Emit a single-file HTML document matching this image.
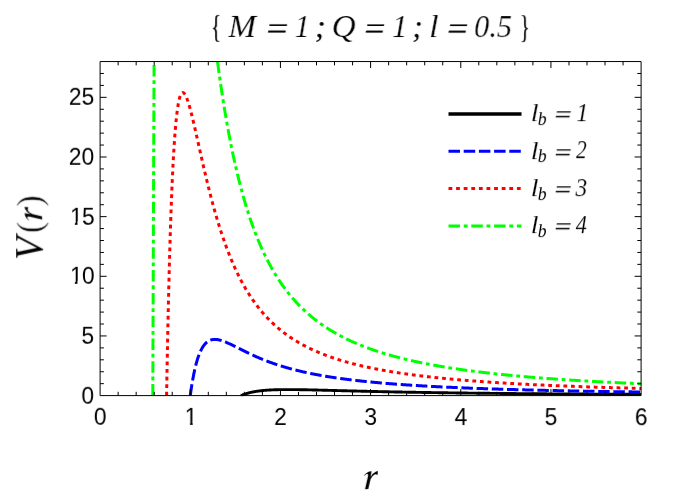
<!DOCTYPE html>
<html><head><meta charset="utf-8"><title>V(r)</title>
<style>
html,body{margin:0;padding:0;background:#fff;}
body{width:686px;height:504px;overflow:hidden;font-family:"Liberation Sans",sans-serif;}
svg{display:block;}
text{fill:#000;}
</style></head><body>
<svg width="686" height="504" viewBox="0 0 686 504">
<rect width="686" height="504" fill="#fff"/>
<defs><clipPath id="clip"><rect x="99.6" y="61.05" width="542.0" height="335.25"/></clipPath></defs>

<g clip-path="url(#clip)" fill="none" stroke-linejoin="round">
<path d="M240.90,395.60 L241.35,395.41 L241.79,395.23 L242.24,395.05 L242.68,394.87 L243.13,394.70 L243.57,394.54 L244.02,394.38 L244.46,394.22 L244.91,394.07 L245.35,393.92 L245.80,393.78 L246.24,393.64 L246.69,393.50 L247.13,393.37 L247.58,393.25 L248.02,393.12 L248.47,393.00 L248.91,392.88 L249.36,392.77 L249.80,392.66 L250.25,392.55 L250.69,392.45 L251.14,392.35 L251.58,392.25 L252.03,392.15 L252.47,392.06 L252.92,391.97 L253.36,391.88 L253.81,391.80 L254.25,391.72 L254.70,391.64 L255.15,391.56 L255.59,391.48 L256.04,391.41 L256.48,391.34 L256.93,391.27 L257.37,391.20 L257.82,391.14 L258.26,391.08 L258.71,391.02 L259.15,390.96 L259.60,390.90 L260.04,390.84 L260.49,390.79 L260.93,390.74 L261.38,390.69 L261.82,390.64 L262.27,390.59 L262.71,390.55 L263.16,390.50 L263.60,390.46 L264.05,390.42 L264.49,390.38 L264.94,390.34 L265.38,390.31 L265.83,390.27 L266.27,390.24 L266.72,390.20 L267.16,390.17 L267.61,390.14 L268.05,390.11 L268.50,390.08 L268.95,390.05 L269.39,390.03 L269.84,390.00 L270.28,389.98 L270.73,389.95 L271.17,389.93 L271.62,389.91 L272.06,389.89 L272.51,389.87 L272.95,389.85 L273.40,389.83 L273.84,389.81 L274.29,389.80 L274.73,389.78 L275.18,389.76 L275.62,389.75 L276.07,389.74 L276.51,389.72 L276.96,389.71 L277.40,389.70 L277.85,389.69 L278.29,389.68 L278.74,389.67 L279.18,389.66 L279.63,389.65 L280.07,389.64 L280.52,389.63 L280.96,389.63 L281.41,389.62 L281.85,389.61 L282.30,389.61 L282.75,389.60 L283.19,389.60 L283.64,389.60 L284.08,389.59 L284.53,389.59 L284.97,389.59 L285.42,389.58 L285.86,389.58 L286.31,389.58 L286.75,389.58 L287.20,389.58 L287.64,389.58 L288.09,389.58 L288.53,389.58 L288.98,389.58 L289.42,389.58 L289.87,389.58 L290.31,389.58 L290.76,389.59 L291.20,389.59 L291.65,389.59 L292.09,389.59 L292.54,389.60 L292.98,389.60 L293.43,389.60 L293.87,389.61 L294.32,389.61 L294.76,389.62 L295.21,389.62 L295.65,389.63 L296.10,389.63 L296.55,389.64 L296.99,389.64 L297.44,389.65 L297.88,389.65 L298.33,389.66 L298.77,389.67 L299.22,389.67 L299.66,389.68 L300.11,389.69 L300.55,389.69 L301.00,389.70 L301.44,389.71 L301.89,389.72 L302.33,389.73 L302.78,389.73 L303.22,389.74 L303.67,389.75 L304.11,389.76 L304.56,389.77 L305.00,389.77 L305.45,389.78 L305.89,389.79 L306.34,389.80 L306.78,389.81 L307.23,389.82 L307.67,389.83 L308.12,389.84 L308.56,389.85 L309.01,389.86 L309.45,389.87 L309.90,389.88 L310.35,389.89 L310.79,389.90 L311.24,389.91 L311.68,389.92 L312.13,389.93 L312.57,389.94 L313.02,389.95 L313.46,389.96 L313.91,389.97 L314.35,389.98 L314.80,389.99 L315.24,390.00 L315.69,390.01 L316.13,390.02 L316.58,390.03 L317.02,390.04 L317.47,390.06 L317.91,390.07 L318.36,390.08 L318.80,390.09 L319.25,390.10 L319.69,390.11 L320.14,390.12 L320.58,390.13 L321.03,390.15 L321.47,390.16 L321.92,390.17 L322.36,390.18 L322.81,390.19 L323.25,390.20 L323.70,390.21 L324.15,390.23 L324.59,390.24 L325.04,390.25 L325.48,390.26 L325.93,390.27 L326.37,390.28 L326.82,390.30 L327.26,390.31 L327.71,390.32 L328.15,390.33 L328.60,390.34 L329.04,390.35 L329.49,390.37 L329.93,390.38 L330.38,390.39 L330.82,390.40 L331.27,390.41 L331.71,390.42 L332.16,390.44 L332.60,390.45 L333.05,390.46 L333.49,390.47 L333.94,390.48 L334.38,390.50 L334.83,390.51 L335.27,390.52 L335.72,390.53 L336.16,390.54 L336.61,390.55 L337.05,390.57 L337.50,390.58 L337.95,390.59 L338.39,390.60 L338.84,390.61 L339.28,390.63 L339.73,390.64 L340.17,390.65 L340.62,390.66 L341.06,390.67 L341.51,390.68 L341.95,390.70 L342.40,390.71 L342.84,390.72 L343.29,390.73 L343.73,390.74 L344.18,390.75 L344.62,390.77 L345.07,390.78 L345.51,390.79 L345.96,390.80 L346.40,390.81 L346.85,390.82 L347.29,390.84 L347.74,390.85 L348.18,390.86 L348.63,390.87 L349.07,390.88 L349.52,390.89 L349.96,390.90 L350.41,390.92 L350.85,390.93 L351.30,390.94 L351.75,390.95 L352.19,390.96 L352.64,390.97 L353.08,390.98 L353.53,391.00 L353.97,391.01 L354.42,391.02 L354.86,391.03 L355.31,391.04 L355.75,391.05 L356.20,391.06 L356.64,391.07 L357.09,391.08 L357.53,391.10 L357.98,391.11 L358.42,391.12 L358.87,391.13 L359.31,391.14 L359.76,391.15 L360.20,391.16 L360.65,391.17 L361.09,391.18 L361.54,391.19 L361.98,391.21 L362.43,391.22 L362.87,391.23 L363.32,391.24 L363.76,391.25 L364.21,391.26 L364.65,391.27 L365.10,391.28 L365.55,391.29 L365.99,391.30 L366.44,391.31 L366.88,391.32 L367.33,391.33 L367.77,391.34 L368.22,391.35 L368.66,391.37 L369.11,391.38 L369.55,391.39 L370.00,391.40 L370.44,391.41 L370.89,391.42 L371.33,391.43 L371.78,391.44 L372.22,391.45 L372.67,391.46 L373.11,391.47 L373.56,391.48 L374.00,391.49 L374.45,391.50 L374.89,391.51 L375.34,391.52 L375.78,391.53 L376.23,391.54 L376.67,391.55 L377.12,391.56 L377.56,391.57 L378.01,391.58 L378.45,391.59 L378.90,391.60 L379.35,391.61 L379.79,391.62 L380.24,391.63 L380.68,391.64 L381.13,391.65 L381.57,391.66 L382.02,391.67 L382.46,391.68 L382.91,391.69 L383.35,391.70 L383.80,391.71 L384.24,391.71 L384.69,391.72 L385.13,391.73 L385.58,391.74 L386.02,391.75 L386.47,391.76 L386.91,391.77 L387.36,391.78 L387.80,391.79 L388.25,391.80 L388.69,391.81 L389.14,391.82 L389.58,391.83 L390.03,391.84 L390.47,391.85 L390.92,391.85 L391.36,391.86 L391.81,391.87 L392.25,391.88 L392.70,391.89 L393.15,391.90 L393.59,391.91 L394.04,391.92 L394.48,391.93 L394.93,391.94 L395.37,391.94 L395.82,391.95 L396.26,391.96 L396.71,391.97 L397.15,391.98 L397.60,391.99 L398.04,392.00 L398.49,392.01 L398.93,392.01 L399.38,392.02 L399.82,392.03 L400.27,392.04 L400.71,392.05 L401.16,392.06 L401.60,392.07 L402.05,392.07 L402.49,392.08 L402.94,392.09 L403.38,392.10 L403.83,392.11 L404.27,392.12 L404.72,392.12 L405.16,392.13 L405.61,392.14 L406.05,392.15 L406.50,392.16 L406.95,392.17 L407.39,392.17 L407.84,392.18 L408.28,392.19 L408.73,392.20 L409.17,392.21 L409.62,392.21 L410.06,392.22 L410.51,392.23 L410.95,392.24 L411.40,392.25 L411.84,392.25 L412.29,392.26 L412.73,392.27 L413.18,392.28 L413.62,392.29 L414.07,392.29 L414.51,392.30 L414.96,392.31 L415.40,392.32 L415.85,392.32 L416.29,392.33 L416.74,392.34 L417.18,392.35 L417.63,392.35 L418.07,392.36 L418.52,392.37 L418.96,392.38 L419.41,392.38 L419.85,392.39 L420.30,392.40 L420.75,392.41 L421.19,392.41 L421.64,392.42 L422.08,392.43 L422.53,392.44 L422.97,392.44 L423.42,392.45 L423.86,392.46 L424.31,392.47 L424.75,392.47 L425.20,392.48 L425.64,392.49 L426.09,392.49 L426.53,392.50 L426.98,392.51 L427.42,392.52 L427.87,392.52 L428.31,392.53 L428.76,392.54 L429.20,392.54 L429.65,392.55 L430.09,392.56 L430.54,392.56 L430.98,392.57 L431.43,392.58 L431.87,392.59 L432.32,392.59 L432.76,392.60 L433.21,392.61 L433.65,392.61 L434.10,392.62 L434.55,392.63 L434.99,392.63 L435.44,392.64 L435.88,392.65 L436.33,392.65 L436.77,392.66 L437.22,392.67 L437.66,392.67 L438.11,392.68 L438.55,392.69 L439.00,392.69 L439.44,392.70 L439.89,392.71 L440.33,392.71 L440.78,392.72 L441.22,392.73 L441.67,392.73 L442.11,392.74 L442.56,392.74 L443.00,392.75 L443.45,392.76 L443.89,392.76 L444.34,392.77 L444.78,392.78 L445.23,392.78 L445.67,392.79 L446.12,392.80 L446.56,392.80 L447.01,392.81 L447.45,392.81 L447.90,392.82 L448.35,392.83 L448.79,392.83 L449.24,392.84 L449.68,392.84 L450.13,392.85 L450.57,392.86 L451.02,392.86 L451.46,392.87 L451.91,392.87 L452.35,392.88 L452.80,392.89 L453.24,392.89 L453.69,392.90 L454.13,392.90 L454.58,392.91 L455.02,392.92 L455.47,392.92 L455.91,392.93 L456.36,392.93 L456.80,392.94 L457.25,392.95 L457.69,392.95 L458.14,392.96 L458.58,392.96 L459.03,392.97 L459.47,392.97 L459.92,392.98 L460.36,392.99 L460.81,392.99 L461.25,393.00 L461.70,393.00 L462.15,393.01 L462.59,393.01 L463.04,393.02 L463.48,393.02 L463.93,393.03 L464.37,393.04 L464.82,393.04 L465.26,393.05 L465.71,393.05 L466.15,393.06 L466.60,393.06 L467.04,393.07 L467.49,393.07 L467.93,393.08 L468.38,393.08 L468.82,393.09 L469.27,393.09 L469.71,393.10 L470.16,393.11 L470.60,393.11 L471.05,393.12 L471.49,393.12 L471.94,393.13 L472.38,393.13 L472.83,393.14 L473.27,393.14 L473.72,393.15 L474.16,393.15 L474.61,393.16 L475.05,393.16 L475.50,393.17 L475.95,393.17 L476.39,393.18 L476.84,393.18 L477.28,393.19 L477.73,393.19 L478.17,393.20 L478.62,393.20 L479.06,393.21 L479.51,393.21 L479.95,393.22 L480.40,393.22 L480.84,393.23 L481.29,393.23 L481.73,393.24 L482.18,393.24 L482.62,393.25 L483.07,393.25 L483.51,393.26 L483.96,393.26 L484.40,393.27 L484.85,393.27 L485.29,393.28 L485.74,393.28 L486.18,393.29 L486.63,393.29 L487.07,393.30 L487.52,393.30 L487.96,393.31 L488.41,393.31 L488.85,393.31 L489.30,393.32 L489.75,393.32 L490.19,393.33 L490.64,393.33 L491.08,393.34 L491.53,393.34 L491.97,393.35 L492.42,393.35 L492.86,393.36 L493.31,393.36 L493.75,393.36 L494.20,393.37 L494.64,393.37 L495.09,393.38 L495.53,393.38 L495.98,393.39 L496.42,393.39 L496.87,393.40 L497.31,393.40 L497.76,393.41 L498.20,393.41 L498.65,393.41 L499.09,393.42 L499.54,393.42 L499.98,393.43 L500.43,393.43 L500.87,393.44 L501.32,393.44 L501.76,393.44 L502.21,393.45 L502.65,393.45 L503.10,393.46 L503.55,393.46 L503.99,393.47 L504.44,393.47 L504.88,393.47 L505.33,393.48 L505.77,393.48 L506.22,393.49 L506.66,393.49 L507.11,393.50 L507.55,393.50 L508.00,393.50 L508.44,393.51 L508.89,393.51 L509.33,393.52 L509.78,393.52 L510.22,393.52 L510.67,393.53 L511.11,393.53 L511.56,393.54 L512.00,393.54 L512.45,393.54 L512.89,393.55 L513.34,393.55 L513.78,393.56 L514.23,393.56 L514.67,393.56 L515.12,393.57 L515.56,393.57 L516.01,393.58 L516.45,393.58 L516.90,393.58 L517.35,393.59 L517.79,393.59 L518.24,393.60 L518.68,393.60 L519.13,393.60 L519.57,393.61 L520.02,393.61 L520.46,393.61 L520.91,393.62 L521.35,393.62 L521.80,393.63 L522.24,393.63 L522.69,393.63 L523.13,393.64 L523.58,393.64 L524.02,393.64 L524.47,393.65 L524.91,393.65 L525.36,393.66 L525.80,393.66 L526.25,393.66 L526.69,393.67 L527.14,393.67 L527.58,393.67 L528.03,393.68 L528.47,393.68 L528.92,393.69 L529.36,393.69 L529.81,393.69 L530.25,393.70 L530.70,393.70 L531.15,393.70 L531.59,393.71 L532.04,393.71 L532.48,393.71 L532.93,393.72 L533.37,393.72 L533.82,393.72 L534.26,393.73 L534.71,393.73 L535.15,393.74 L535.60,393.74 L536.04,393.74 L536.49,393.75 L536.93,393.75 L537.38,393.75 L537.82,393.76 L538.27,393.76 L538.71,393.76 L539.16,393.77 L539.60,393.77 L540.05,393.77 L540.49,393.78 L540.94,393.78 L541.38,393.78 L541.83,393.79 L542.27,393.79 L542.72,393.79 L543.16,393.80 L543.61,393.80 L544.05,393.80 L544.50,393.81 L544.95,393.81 L545.39,393.81 L545.84,393.82 L546.28,393.82 L546.73,393.82 L547.17,393.83 L547.62,393.83 L548.06,393.83 L548.51,393.84 L548.95,393.84 L549.40,393.84 L549.84,393.85 L550.29,393.85 L550.73,393.85 L551.18,393.85 L551.62,393.86 L552.07,393.86 L552.51,393.86 L552.96,393.87 L553.40,393.87 L553.85,393.87 L554.29,393.88 L554.74,393.88 L555.18,393.88 L555.63,393.89 L556.07,393.89 L556.52,393.89 L556.96,393.90 L557.41,393.90 L557.85,393.90 L558.30,393.90 L558.75,393.91 L559.19,393.91 L559.64,393.91 L560.08,393.92 L560.53,393.92 L560.97,393.92 L561.42,393.93 L561.86,393.93 L562.31,393.93 L562.75,393.93 L563.20,393.94 L563.64,393.94 L564.09,393.94 L564.53,393.95 L564.98,393.95 L565.42,393.95 L565.87,393.95 L566.31,393.96 L566.76,393.96 L567.20,393.96 L567.65,393.97 L568.09,393.97 L568.54,393.97 L568.98,393.98 L569.43,393.98 L569.87,393.98 L570.32,393.98 L570.76,393.99 L571.21,393.99 L571.65,393.99 L572.10,393.99 L572.55,394.00 L572.99,394.00 L573.44,394.00 L573.88,394.01 L574.33,394.01 L574.77,394.01 L575.22,394.01 L575.66,394.02 L576.11,394.02 L576.55,394.02 L577.00,394.03 L577.44,394.03 L577.89,394.03 L578.33,394.03 L578.78,394.04 L579.22,394.04 L579.67,394.04 L580.11,394.04 L580.56,394.05 L581.00,394.05 L581.45,394.05 L581.89,394.05 L582.34,394.06 L582.78,394.06 L583.23,394.06 L583.67,394.07 L584.12,394.07 L584.56,394.07 L585.01,394.07 L585.45,394.08 L585.90,394.08 L586.35,394.08 L586.79,394.08 L587.24,394.09 L587.68,394.09 L588.13,394.09 L588.57,394.09 L589.02,394.10 L589.46,394.10 L589.91,394.10 L590.35,394.10 L590.80,394.11 L591.24,394.11 L591.69,394.11 L592.13,394.11 L592.58,394.12 L593.02,394.12 L593.47,394.12 L593.91,394.12 L594.36,394.13 L594.80,394.13 L595.25,394.13 L595.69,394.13 L596.14,394.14 L596.58,394.14 L597.03,394.14 L597.47,394.14 L597.92,394.15 L598.36,394.15 L598.81,394.15 L599.25,394.15 L599.70,394.16 L600.15,394.16 L600.59,394.16 L601.04,394.16 L601.48,394.17 L601.93,394.17 L602.37,394.17 L602.82,394.17 L603.26,394.17 L603.71,394.18 L604.15,394.18 L604.60,394.18 L605.04,394.18 L605.49,394.19 L605.93,394.19 L606.38,394.19 L606.82,394.19 L607.27,394.20 L607.71,394.20 L608.16,394.20 L608.60,394.20 L609.05,394.21 L609.49,394.21 L609.94,394.21 L610.38,394.21 L610.83,394.21 L611.27,394.22 L611.72,394.22 L612.16,394.22 L612.61,394.22 L613.05,394.23 L613.50,394.23 L613.95,394.23 L614.39,394.23 L614.84,394.23 L615.28,394.24 L615.73,394.24 L616.17,394.24 L616.62,394.24 L617.06,394.25 L617.51,394.25 L617.95,394.25 L618.40,394.25 L618.84,394.25 L619.29,394.26 L619.73,394.26 L620.18,394.26 L620.62,394.26 L621.07,394.26 L621.51,394.27 L621.96,394.27 L622.40,394.27 L622.85,394.27 L623.29,394.28 L623.74,394.28 L624.18,394.28 L624.63,394.28 L625.07,394.28 L625.52,394.29 L625.96,394.29 L626.41,394.29 L626.85,394.29 L627.30,394.29 L627.75,394.30 L628.19,394.30 L628.64,394.30 L629.08,394.30 L629.53,394.30 L629.97,394.31 L630.42,394.31 L630.86,394.31 L631.31,394.31 L631.75,394.31 L632.20,394.32 L632.64,394.32 L633.09,394.32 L633.53,394.32 L633.98,394.32 L634.42,394.33 L634.87,394.33 L635.31,394.33 L635.76,394.33 L636.20,394.33 L636.65,394.34 L637.09,394.34 L637.54,394.34 L637.98,394.34 L638.43,394.34 L638.87,394.35 L639.32,394.35 L639.76,394.35 L640.21,394.35 L640.65,394.35 L641.10,394.36" stroke="#000000" stroke-width="2.9"/>
<path d="M190.27,395.60 L190.77,391.99 L191.27,388.57 L191.77,385.35 L192.27,382.30 L192.77,379.42 L193.28,376.71 L193.78,374.15 L194.28,371.73 L194.78,369.45 L195.28,367.30 L195.78,365.27 L196.28,363.37 L196.79,361.57 L197.29,359.88 L197.79,358.29 L198.29,356.80 L198.79,355.40 L199.29,354.08 L199.79,352.85 L200.30,351.69 L200.80,350.61 L201.30,349.60 L201.80,348.66 L202.30,347.78 L202.80,346.96 L203.31,346.20 L203.81,345.49 L204.31,344.84 L204.81,344.23 L205.31,343.67 L205.81,343.16 L206.31,342.68 L206.82,342.25 L207.32,341.86 L207.82,341.50 L208.32,341.17 L208.82,340.88 L209.32,340.62 L209.82,340.39 L210.33,340.19 L210.83,340.01 L211.33,339.86 L211.83,339.73 L212.33,339.63 L212.83,339.55 L213.33,339.48 L213.84,339.44 L214.34,339.42 L214.84,339.41 L215.34,339.42 L215.84,339.44 L216.34,339.48 L216.85,339.54 L217.35,339.60 L217.85,339.68 L218.35,339.77 L218.85,339.88 L219.35,339.99 L219.85,340.11 L220.36,340.24 L220.86,340.39 L221.36,340.54 L221.86,340.69 L222.36,340.86 L222.86,341.03 L223.36,341.21 L223.87,341.39 L224.37,341.59 L224.87,341.78 L225.37,341.98 L225.87,342.19 L226.37,342.40 L226.87,342.61 L227.38,342.83 L227.88,343.05 L228.38,343.28 L228.88,343.51 L229.38,343.74 L229.88,343.97 L230.39,344.21 L230.89,344.45 L231.39,344.69 L231.89,344.93 L232.39,345.17 L232.89,345.42 L233.39,345.66 L233.90,345.91 L234.40,346.16 L234.90,346.41 L235.40,346.66 L235.90,346.91 L236.40,347.16 L236.90,347.41 L237.41,347.67 L237.91,347.92 L238.41,348.17 L238.91,348.42 L239.41,348.67 L239.91,348.93 L240.41,349.18 L240.92,349.43 L241.42,349.68 L241.92,349.93 L242.42,350.18 L242.92,350.43 L243.42,350.68 L243.93,350.93 L244.43,351.17 L244.93,351.42 L245.43,351.67 L245.93,351.91 L246.43,352.16 L246.93,352.40 L247.44,352.64 L247.94,352.88 L248.44,353.12 L248.94,353.36 L249.44,353.60 L249.94,353.83 L250.44,354.07 L250.95,354.30 L251.45,354.54 L251.95,354.77 L252.45,355.00 L252.95,355.23 L253.45,355.46 L253.96,355.68 L254.46,355.91 L254.96,356.13 L255.46,356.36 L255.96,356.58 L256.46,356.80 L256.96,357.02 L257.47,357.24 L257.97,357.45 L258.47,357.67 L258.97,357.88 L259.47,358.09 L259.97,358.30 L260.47,358.51 L260.98,358.72 L261.48,358.93 L261.98,359.13 L262.48,359.34 L262.98,359.54 L263.48,359.74 L263.98,359.94 L264.49,360.14 L264.99,360.34 L265.49,360.53 L265.99,360.73 L266.49,360.92 L266.99,361.11 L267.50,361.30 L268.00,361.49 L268.50,361.68 L269.00,361.87 L269.50,362.05 L270.00,362.24 L270.50,362.42 L271.01,362.60 L271.51,362.78 L272.01,362.96 L272.51,363.14 L273.01,363.31 L273.51,363.49 L274.01,363.66 L274.52,363.83 L275.02,364.00 L275.52,364.17 L276.02,364.34 L276.52,364.51 L277.02,364.68 L277.52,364.84 L278.03,365.00 L278.53,365.17 L279.03,365.33 L279.53,365.49 L280.03,365.65 L280.53,365.81 L281.04,365.96 L281.54,366.12 L282.04,366.27 L282.54,366.43 L283.04,366.58 L283.54,366.73 L284.04,366.88 L284.55,367.03 L285.05,367.18 L285.55,367.32 L286.05,367.47 L286.55,367.61 L287.05,367.76 L287.55,367.90 L288.06,368.04 L288.56,368.18 L289.06,368.32 L289.56,368.46 L290.06,368.60 L290.56,368.73 L291.06,368.87 L291.57,369.00 L292.07,369.14 L292.57,369.27 L293.07,369.40 L293.57,369.53 L294.07,369.66 L294.58,369.79 L295.08,369.92 L295.58,370.04 L296.08,370.17 L296.58,370.30 L297.08,370.42 L297.58,370.54 L298.09,370.67 L298.59,370.79 L299.09,370.91 L299.59,371.03 L300.09,371.15 L300.59,371.26 L301.09,371.38 L301.60,371.50 L302.10,371.61 L302.60,371.73 L303.10,371.84 L303.60,371.96 L304.10,372.07 L304.60,372.18 L305.11,372.29 L305.61,372.40 L306.11,372.51 L306.61,372.62 L307.11,372.73 L307.61,372.83 L308.12,372.94 L308.62,373.05 L309.12,373.15 L309.62,373.25 L310.12,373.36 L310.62,373.46 L311.12,373.56 L311.63,373.66 L312.13,373.76 L312.63,373.86 L313.13,373.96 L313.63,374.06 L314.13,374.16 L314.63,374.26 L315.14,374.35 L315.64,374.45 L316.14,374.54 L316.64,374.64 L317.14,374.73 L317.64,374.83 L318.14,374.92 L318.65,375.01 L319.15,375.10 L319.65,375.19 L320.15,375.28 L320.65,375.37 L321.15,375.46 L321.66,375.55 L322.16,375.64 L322.66,375.73 L323.16,375.81 L323.66,375.90 L324.16,375.98 L324.66,376.07 L325.17,376.15 L325.67,376.24 L326.17,376.32 L326.67,376.40 L327.17,376.49 L327.67,376.57 L328.17,376.65 L328.68,376.73 L329.18,376.81 L329.68,376.89 L330.18,376.97 L330.68,377.05 L331.18,377.12 L331.68,377.20 L332.19,377.28 L332.69,377.36 L333.19,377.43 L333.69,377.51 L334.19,377.58 L334.69,377.66 L335.20,377.73 L335.70,377.81 L336.20,377.88 L336.70,377.95 L337.20,378.02 L337.70,378.10 L338.20,378.17 L338.71,378.24 L339.21,378.31 L339.71,378.38 L340.21,378.45 L340.71,378.52 L341.21,378.59 L341.71,378.66 L342.22,378.72 L342.72,378.79 L343.22,378.86 L343.72,378.93 L344.22,378.99 L344.72,379.06 L345.22,379.12 L345.73,379.19 L346.23,379.25 L346.73,379.32 L347.23,379.38 L347.73,379.45 L348.23,379.51 L348.74,379.57 L349.24,379.63 L349.74,379.70 L350.24,379.76 L350.74,379.82 L351.24,379.88 L351.74,379.94 L352.25,380.00 L352.75,380.06 L353.25,380.12 L353.75,380.18 L354.25,380.24 L354.75,380.30 L355.25,380.36 L355.76,380.41 L356.26,380.47 L356.76,380.53 L357.26,380.58 L357.76,380.64 L358.26,380.70 L358.76,380.75 L359.27,380.81 L359.77,380.86 L360.27,380.92 L360.77,380.97 L361.27,381.03 L361.77,381.08 L362.28,381.14 L362.78,381.19 L363.28,381.24 L363.78,381.29 L364.28,381.35 L364.78,381.40 L365.28,381.45 L365.79,381.50 L366.29,381.55 L366.79,381.61 L367.29,381.66 L367.79,381.71 L368.29,381.76 L368.79,381.81 L369.30,381.86 L369.80,381.91 L370.30,381.95 L370.80,382.00 L371.30,382.05 L371.80,382.10 L372.31,382.15 L372.81,382.20 L373.31,382.24 L373.81,382.29 L374.31,382.34 L374.81,382.38 L375.31,382.43 L375.82,382.48 L376.32,382.52 L376.82,382.57 L377.32,382.61 L377.82,382.66 L378.32,382.70 L378.82,382.75 L379.33,382.79 L379.83,382.84 L380.33,382.88 L380.83,382.93 L381.33,382.97 L381.83,383.01 L382.33,383.06 L382.84,383.10 L383.34,383.14 L383.84,383.18 L384.34,383.23 L384.84,383.27 L385.34,383.31 L385.85,383.35 L386.35,383.39 L386.85,383.43 L387.35,383.48 L387.85,383.52 L388.35,383.56 L388.85,383.60 L389.36,383.64 L389.86,383.68 L390.36,383.72 L390.86,383.76 L391.36,383.80 L391.86,383.83 L392.36,383.87 L392.87,383.91 L393.37,383.95 L393.87,383.99 L394.37,384.03 L394.87,384.06 L395.37,384.10 L395.87,384.14 L396.38,384.18 L396.88,384.21 L397.38,384.25 L397.88,384.29 L398.38,384.32 L398.88,384.36 L399.39,384.40 L399.89,384.43 L400.39,384.47 L400.89,384.50 L401.39,384.54 L401.89,384.58 L402.39,384.61 L402.90,384.65 L403.40,384.68 L403.90,384.72 L404.40,384.75 L404.90,384.78 L405.40,384.82 L405.90,384.85 L406.41,384.89 L406.91,384.92 L407.41,384.95 L407.91,384.99 L408.41,385.02 L408.91,385.05 L409.41,385.09 L409.92,385.12 L410.42,385.15 L410.92,385.18 L411.42,385.22 L411.92,385.25 L412.42,385.28 L412.93,385.31 L413.43,385.34 L413.93,385.37 L414.43,385.41 L414.93,385.44 L415.43,385.47 L415.93,385.50 L416.44,385.53 L416.94,385.56 L417.44,385.59 L417.94,385.62 L418.44,385.65 L418.94,385.68 L419.44,385.71 L419.95,385.74 L420.45,385.77 L420.95,385.80 L421.45,385.83 L421.95,385.86 L422.45,385.89 L422.95,385.92 L423.46,385.95 L423.96,385.97 L424.46,386.00 L424.96,386.03 L425.46,386.06 L425.96,386.09 L426.47,386.12 L426.97,386.14 L427.47,386.17 L427.97,386.20 L428.47,386.23 L428.97,386.25 L429.47,386.28 L429.98,386.31 L430.48,386.34 L430.98,386.36 L431.48,386.39 L431.98,386.42 L432.48,386.44 L432.98,386.47 L433.49,386.50 L433.99,386.52 L434.49,386.55 L434.99,386.57 L435.49,386.60 L435.99,386.63 L436.49,386.65 L437.00,386.68 L437.50,386.70 L438.00,386.73 L438.50,386.75 L439.00,386.78 L439.50,386.80 L440.01,386.83 L440.51,386.85 L441.01,386.88 L441.51,386.90 L442.01,386.93 L442.51,386.95 L443.01,386.98 L443.52,387.00 L444.02,387.02 L444.52,387.05 L445.02,387.07 L445.52,387.09 L446.02,387.12 L446.52,387.14 L447.03,387.17 L447.53,387.19 L448.03,387.21 L448.53,387.24 L449.03,387.26 L449.53,387.28 L450.03,387.30 L450.54,387.33 L451.04,387.35 L451.54,387.37 L452.04,387.39 L452.54,387.42 L453.04,387.44 L453.55,387.46 L454.05,387.48 L454.55,387.51 L455.05,387.53 L455.55,387.55 L456.05,387.57 L456.55,387.59 L457.06,387.61 L457.56,387.64 L458.06,387.66 L458.56,387.68 L459.06,387.70 L459.56,387.72 L460.06,387.74 L460.57,387.76 L461.07,387.78 L461.57,387.80 L462.07,387.82 L462.57,387.85 L463.07,387.87 L463.57,387.89 L464.08,387.91 L464.58,387.93 L465.08,387.95 L465.58,387.97 L466.08,387.99 L466.58,388.01 L467.09,388.03 L467.59,388.05 L468.09,388.07 L468.59,388.09 L469.09,388.11 L469.59,388.13 L470.09,388.14 L470.60,388.16 L471.10,388.18 L471.60,388.20 L472.10,388.22 L472.60,388.24 L473.10,388.26 L473.60,388.28 L474.11,388.30 L474.61,388.32 L475.11,388.33 L475.61,388.35 L476.11,388.37 L476.61,388.39 L477.12,388.41 L477.62,388.43 L478.12,388.44 L478.62,388.46 L479.12,388.48 L479.62,388.50 L480.12,388.52 L480.63,388.53 L481.13,388.55 L481.63,388.57 L482.13,388.59 L482.63,388.61 L483.13,388.62 L483.63,388.64 L484.14,388.66 L484.64,388.68 L485.14,388.69 L485.64,388.71 L486.14,388.73 L486.64,388.74 L487.14,388.76 L487.65,388.78 L488.15,388.79 L488.65,388.81 L489.15,388.83 L489.65,388.85 L490.15,388.86 L490.66,388.88 L491.16,388.89 L491.66,388.91 L492.16,388.93 L492.66,388.94 L493.16,388.96 L493.66,388.98 L494.17,388.99 L494.67,389.01 L495.17,389.02 L495.67,389.04 L496.17,389.06 L496.67,389.07 L497.17,389.09 L497.68,389.10 L498.18,389.12 L498.68,389.13 L499.18,389.15 L499.68,389.17 L500.18,389.18 L500.68,389.20 L501.19,389.21 L501.69,389.23 L502.19,389.24 L502.69,389.26 L503.19,389.27 L503.69,389.29 L504.20,389.30 L504.70,389.32 L505.20,389.33 L505.70,389.35 L506.20,389.36 L506.70,389.38 L507.20,389.39 L507.71,389.41 L508.21,389.42 L508.71,389.44 L509.21,389.45 L509.71,389.46 L510.21,389.48 L510.71,389.49 L511.22,389.51 L511.72,389.52 L512.22,389.54 L512.72,389.55 L513.22,389.56 L513.72,389.58 L514.22,389.59 L514.73,389.61 L515.23,389.62 L515.73,389.63 L516.23,389.65 L516.73,389.66 L517.23,389.67 L517.74,389.69 L518.24,389.70 L518.74,389.72 L519.24,389.73 L519.74,389.74 L520.24,389.76 L520.74,389.77 L521.25,389.78 L521.75,389.80 L522.25,389.81 L522.75,389.82 L523.25,389.83 L523.75,389.85 L524.25,389.86 L524.76,389.87 L525.26,389.89 L525.76,389.90 L526.26,389.91 L526.76,389.93 L527.26,389.94 L527.76,389.95 L528.27,389.96 L528.77,389.98 L529.27,389.99 L529.77,390.00 L530.27,390.01 L530.77,390.03 L531.28,390.04 L531.78,390.05 L532.28,390.06 L532.78,390.08 L533.28,390.09 L533.78,390.10 L534.28,390.11 L534.79,390.12 L535.29,390.14 L535.79,390.15 L536.29,390.16 L536.79,390.17 L537.29,390.18 L537.79,390.20 L538.30,390.21 L538.80,390.22 L539.30,390.23 L539.80,390.24 L540.30,390.25 L540.80,390.27 L541.30,390.28 L541.81,390.29 L542.31,390.30 L542.81,390.31 L543.31,390.32 L543.81,390.34 L544.31,390.35 L544.82,390.36 L545.32,390.37 L545.82,390.38 L546.32,390.39 L546.82,390.40 L547.32,390.41 L547.82,390.43 L548.33,390.44 L548.83,390.45 L549.33,390.46 L549.83,390.47 L550.33,390.48 L550.83,390.49 L551.33,390.50 L551.84,390.51 L552.34,390.52 L552.84,390.53 L553.34,390.55 L553.84,390.56 L554.34,390.57 L554.84,390.58 L555.35,390.59 L555.85,390.60 L556.35,390.61 L556.85,390.62 L557.35,390.63 L557.85,390.64 L558.36,390.65 L558.86,390.66 L559.36,390.67 L559.86,390.68 L560.36,390.69 L560.86,390.70 L561.36,390.71 L561.87,390.72 L562.37,390.73 L562.87,390.74 L563.37,390.75 L563.87,390.76 L564.37,390.77 L564.87,390.78 L565.38,390.79 L565.88,390.80 L566.38,390.81 L566.88,390.82 L567.38,390.83 L567.88,390.84 L568.38,390.85 L568.89,390.86 L569.39,390.87 L569.89,390.88 L570.39,390.89 L570.89,390.90 L571.39,390.91 L571.90,390.92 L572.40,390.93 L572.90,390.94 L573.40,390.95 L573.90,390.96 L574.40,390.97 L574.90,390.98 L575.41,390.99 L575.91,390.99 L576.41,391.00 L576.91,391.01 L577.41,391.02 L577.91,391.03 L578.41,391.04 L578.92,391.05 L579.42,391.06 L579.92,391.07 L580.42,391.08 L580.92,391.09 L581.42,391.10 L581.92,391.10 L582.43,391.11 L582.93,391.12 L583.43,391.13 L583.93,391.14 L584.43,391.15 L584.93,391.16 L585.44,391.17 L585.94,391.17 L586.44,391.18 L586.94,391.19 L587.44,391.20 L587.94,391.21 L588.44,391.22 L588.95,391.23 L589.45,391.24 L589.95,391.24 L590.45,391.25 L590.95,391.26 L591.45,391.27 L591.95,391.28 L592.46,391.29 L592.96,391.29 L593.46,391.30 L593.96,391.31 L594.46,391.32 L594.96,391.33 L595.47,391.34 L595.97,391.34 L596.47,391.35 L596.97,391.36 L597.47,391.37 L597.97,391.38 L598.47,391.39 L598.98,391.39 L599.48,391.40 L599.98,391.41 L600.48,391.42 L600.98,391.43 L601.48,391.43 L601.98,391.44 L602.49,391.45 L602.99,391.46 L603.49,391.47 L603.99,391.47 L604.49,391.48 L604.99,391.49 L605.49,391.50 L606.00,391.51 L606.50,391.51 L607.00,391.52 L607.50,391.53 L608.00,391.54 L608.50,391.54 L609.01,391.55 L609.51,391.56 L610.01,391.57 L610.51,391.57 L611.01,391.58 L611.51,391.59 L612.01,391.60 L612.52,391.60 L613.02,391.61 L613.52,391.62 L614.02,391.63 L614.52,391.63 L615.02,391.64 L615.52,391.65 L616.03,391.66 L616.53,391.66 L617.03,391.67 L617.53,391.68 L618.03,391.69 L618.53,391.69 L619.03,391.70 L619.54,391.71 L620.04,391.71 L620.54,391.72 L621.04,391.73 L621.54,391.74 L622.04,391.74 L622.55,391.75 L623.05,391.76 L623.55,391.76 L624.05,391.77 L624.55,391.78 L625.05,391.79 L625.55,391.79 L626.06,391.80 L626.56,391.81 L627.06,391.81 L627.56,391.82 L628.06,391.83 L628.56,391.83 L629.06,391.84 L629.57,391.85 L630.07,391.85 L630.57,391.86 L631.07,391.87 L631.57,391.87 L632.07,391.88 L632.57,391.89 L633.08,391.89 L633.58,391.90 L634.08,391.91 L634.58,391.91 L635.08,391.92 L635.58,391.93 L636.09,391.93 L636.59,391.94 L637.09,391.95 L637.59,391.95 L638.09,391.96 L638.59,391.97 L639.09,391.97 L639.60,391.98 L640.10,391.99 L640.60,391.99 L641.10,392.00" stroke="#0000ff" stroke-width="3.0" stroke-dasharray="11.5 3.7"/>
<path d="M166.59,395.60 L167.12,365.97 L167.64,338.77 L168.17,313.83 L168.70,290.97 L169.23,270.04 L169.76,250.89 L170.28,233.40 L170.81,217.44 L171.34,202.90 L171.87,189.67 L172.40,177.66 L172.92,166.78 L173.45,156.94 L173.98,148.07 L174.51,140.10 L175.03,132.96 L175.56,126.58 L176.09,120.92 L176.62,115.92 L177.15,111.53 L177.67,107.70 L178.20,104.40 L178.73,101.58 L179.26,99.21 L179.78,97.26 L180.31,95.68 L180.84,94.46 L181.37,93.57 L181.90,92.98 L182.42,92.66 L182.95,92.60 L183.48,92.78 L184.01,93.17 L184.54,93.77 L185.06,94.55 L185.59,95.49 L186.12,96.59 L186.65,97.83 L187.17,99.20 L187.70,100.69 L188.23,102.29 L188.76,103.98 L189.29,105.76 L189.81,107.62 L190.34,109.55 L190.87,111.54 L191.40,113.60 L191.92,115.70 L192.45,117.85 L192.98,120.04 L193.51,122.27 L194.04,124.52 L194.56,126.80 L195.09,129.11 L195.62,131.43 L196.15,133.76 L196.68,136.11 L197.20,138.47 L197.73,140.83 L198.26,143.19 L198.79,145.56 L199.31,147.92 L199.84,150.28 L200.37,152.64 L200.90,154.99 L201.43,157.33 L201.95,159.66 L202.48,161.98 L203.01,164.29 L203.54,166.58 L204.06,168.86 L204.59,171.12 L205.12,173.37 L205.65,175.60 L206.18,177.81 L206.70,180.01 L207.23,182.19 L207.76,184.34 L208.29,186.48 L208.81,188.60 L209.34,190.70 L209.87,192.77 L210.40,194.83 L210.93,196.86 L211.45,198.88 L211.98,200.87 L212.51,202.84 L213.04,204.79 L213.57,206.72 L214.09,208.62 L214.62,210.51 L215.15,212.37 L215.68,214.21 L216.20,216.03 L216.73,217.83 L217.26,219.61 L217.79,221.37 L218.32,223.10 L218.84,224.81 L219.37,226.51 L219.90,228.18 L220.43,229.83 L220.95,231.47 L221.48,233.08 L222.01,234.67 L222.54,236.24 L223.07,237.79 L223.59,239.33 L224.12,240.84 L224.65,242.34 L225.18,243.81 L225.71,245.27 L226.23,246.71 L226.76,248.13 L227.29,249.53 L227.82,250.92 L228.34,252.28 L228.87,253.63 L229.40,254.97 L229.93,256.28 L230.46,257.58 L230.98,258.86 L231.51,260.13 L232.04,261.38 L232.57,262.61 L233.09,263.83 L233.62,265.03 L234.15,266.22 L234.68,267.40 L235.21,268.55 L235.73,269.70 L236.26,270.83 L236.79,271.94 L237.32,273.04 L237.85,274.13 L238.37,275.20 L238.90,276.26 L239.43,277.31 L239.96,278.34 L240.48,279.36 L241.01,280.37 L241.54,281.36 L242.07,282.34 L242.60,283.31 L243.12,284.27 L243.65,285.22 L244.18,286.15 L244.71,287.08 L245.23,287.99 L245.76,288.89 L246.29,289.78 L246.82,290.66 L247.35,291.53 L247.87,292.38 L248.40,293.23 L248.93,294.07 L249.46,294.90 L249.98,295.71 L250.51,296.52 L251.04,297.32 L251.57,298.11 L252.10,298.89 L252.62,299.65 L253.15,300.41 L253.68,301.17 L254.21,301.91 L254.74,302.64 L255.26,303.37 L255.79,304.08 L256.32,304.79 L256.85,305.49 L257.37,306.19 L257.90,306.87 L258.43,307.55 L258.96,308.21 L259.49,308.87 L260.01,309.53 L260.54,310.17 L261.07,310.81 L261.60,311.44 L262.12,312.07 L262.65,312.68 L263.18,313.30 L263.71,313.90 L264.24,314.50 L264.76,315.09 L265.29,315.67 L265.82,316.25 L266.35,316.82 L266.88,317.38 L267.40,317.94 L267.93,318.49 L268.46,319.04 L268.99,319.58 L269.51,320.11 L270.04,320.64 L270.57,321.16 L271.10,321.68 L271.63,322.19 L272.15,322.70 L272.68,323.20 L273.21,323.70 L273.74,324.19 L274.26,324.67 L274.79,325.15 L275.32,325.63 L275.85,326.10 L276.38,326.56 L276.90,327.02 L277.43,327.48 L277.96,327.93 L278.49,328.38 L279.02,328.82 L279.54,329.26 L280.07,329.69 L280.60,330.12 L281.13,330.54 L281.65,330.96 L282.18,331.38 L282.71,331.79 L283.24,332.20 L283.77,332.60 L284.29,333.00 L284.82,333.39 L285.35,333.79 L285.88,334.17 L286.40,334.56 L286.93,334.94 L287.46,335.31 L287.99,335.69 L288.52,336.06 L289.04,336.42 L289.57,336.78 L290.10,337.14 L290.63,337.50 L291.15,337.85 L291.68,338.20 L292.21,338.54 L292.74,338.89 L293.27,339.23 L293.79,339.56 L294.32,339.89 L294.85,340.22 L295.38,340.55 L295.91,340.87 L296.43,341.19 L296.96,341.51 L297.49,341.83 L298.02,342.14 L298.54,342.45 L299.07,342.75 L299.60,343.06 L300.13,343.36 L300.66,343.65 L301.18,343.95 L301.71,344.24 L302.24,344.53 L302.77,344.82 L303.29,345.10 L303.82,345.39 L304.35,345.67 L304.88,345.94 L305.41,346.22 L305.93,346.49 L306.46,346.76 L306.99,347.03 L307.52,347.29 L308.05,347.56 L308.57,347.82 L309.10,348.08 L309.63,348.33 L310.16,348.59 L310.68,348.84 L311.21,349.09 L311.74,349.34 L312.27,349.58 L312.80,349.83 L313.32,350.07 L313.85,350.31 L314.38,350.55 L314.91,350.78 L315.43,351.02 L315.96,351.25 L316.49,351.48 L317.02,351.71 L317.55,351.93 L318.07,352.16 L318.60,352.38 L319.13,352.60 L319.66,352.82 L320.19,353.04 L320.71,353.25 L321.24,353.47 L321.77,353.68 L322.30,353.89 L322.82,354.10 L323.35,354.31 L323.88,354.51 L324.41,354.72 L324.94,354.92 L325.46,355.12 L325.99,355.32 L326.52,355.51 L327.05,355.71 L327.57,355.91 L328.10,356.10 L328.63,356.29 L329.16,356.48 L329.69,356.67 L330.21,356.86 L330.74,357.04 L331.27,357.23 L331.80,357.41 L332.32,357.59 L332.85,357.77 L333.38,357.95 L333.91,358.13 L334.44,358.30 L334.96,358.48 L335.49,358.65 L336.02,358.82 L336.55,358.99 L337.08,359.16 L337.60,359.33 L338.13,359.50 L338.66,359.67 L339.19,359.83 L339.71,360.00 L340.24,360.16 L340.77,360.32 L341.30,360.48 L341.83,360.64 L342.35,360.80 L342.88,360.95 L343.41,361.11 L343.94,361.26 L344.46,361.42 L344.99,361.57 L345.52,361.72 L346.05,361.87 L346.58,362.02 L347.10,362.17 L347.63,362.31 L348.16,362.46 L348.69,362.61 L349.22,362.75 L349.74,362.89 L350.27,363.04 L350.80,363.18 L351.33,363.32 L351.85,363.46 L352.38,363.59 L352.91,363.73 L353.44,363.87 L353.97,364.00 L354.49,364.14 L355.02,364.27 L355.55,364.40 L356.08,364.54 L356.60,364.67 L357.13,364.80 L357.66,364.93 L358.19,365.05 L358.72,365.18 L359.24,365.31 L359.77,365.43 L360.30,365.56 L360.83,365.68 L361.36,365.81 L361.88,365.93 L362.41,366.05 L362.94,366.17 L363.47,366.29 L363.99,366.41 L364.52,366.53 L365.05,366.65 L365.58,366.77 L366.11,366.88 L366.63,367.00 L367.16,367.11 L367.69,367.23 L368.22,367.34 L368.74,367.45 L369.27,367.57 L369.80,367.68 L370.33,367.79 L370.86,367.90 L371.38,368.01 L371.91,368.12 L372.44,368.22 L372.97,368.33 L373.49,368.44 L374.02,368.54 L374.55,368.65 L375.08,368.75 L375.61,368.86 L376.13,368.96 L376.66,369.06 L377.19,369.17 L377.72,369.27 L378.25,369.37 L378.77,369.47 L379.30,369.57 L379.83,369.67 L380.36,369.77 L380.88,369.86 L381.41,369.96 L381.94,370.06 L382.47,370.15 L383.00,370.25 L383.52,370.34 L384.05,370.44 L384.58,370.53 L385.11,370.63 L385.63,370.72 L386.16,370.81 L386.69,370.90 L387.22,370.99 L387.75,371.09 L388.27,371.18 L388.80,371.26 L389.33,371.35 L389.86,371.44 L390.39,371.53 L390.91,371.62 L391.44,371.71 L391.97,371.79 L392.50,371.88 L393.02,371.96 L393.55,372.05 L394.08,372.13 L394.61,372.22 L395.14,372.30 L395.66,372.38 L396.19,372.47 L396.72,372.55 L397.25,372.63 L397.77,372.71 L398.30,372.79 L398.83,372.87 L399.36,372.95 L399.89,373.03 L400.41,373.11 L400.94,373.19 L401.47,373.27 L402.00,373.35 L402.53,373.43 L403.05,373.50 L403.58,373.58 L404.11,373.66 L404.64,373.73 L405.16,373.81 L405.69,373.88 L406.22,373.96 L406.75,374.03 L407.28,374.10 L407.80,374.18 L408.33,374.25 L408.86,374.32 L409.39,374.40 L409.91,374.47 L410.44,374.54 L410.97,374.61 L411.50,374.68 L412.03,374.75 L412.55,374.82 L413.08,374.89 L413.61,374.96 L414.14,375.03 L414.66,375.10 L415.19,375.16 L415.72,375.23 L416.25,375.30 L416.78,375.37 L417.30,375.43 L417.83,375.50 L418.36,375.57 L418.89,375.63 L419.42,375.70 L419.94,375.76 L420.47,375.83 L421.00,375.89 L421.53,375.96 L422.05,376.02 L422.58,376.08 L423.11,376.15 L423.64,376.21 L424.17,376.27 L424.69,376.33 L425.22,376.39 L425.75,376.46 L426.28,376.52 L426.80,376.58 L427.33,376.64 L427.86,376.70 L428.39,376.76 L428.92,376.82 L429.44,376.88 L429.97,376.94 L430.50,377.00 L431.03,377.06 L431.56,377.11 L432.08,377.17 L432.61,377.23 L433.14,377.29 L433.67,377.34 L434.19,377.40 L434.72,377.46 L435.25,377.51 L435.78,377.57 L436.31,377.63 L436.83,377.68 L437.36,377.74 L437.89,377.79 L438.42,377.85 L438.94,377.90 L439.47,377.95 L440.00,378.01 L440.53,378.06 L441.06,378.11 L441.58,378.17 L442.11,378.22 L442.64,378.27 L443.17,378.33 L443.70,378.38 L444.22,378.43 L444.75,378.48 L445.28,378.53 L445.81,378.58 L446.33,378.64 L446.86,378.69 L447.39,378.74 L447.92,378.79 L448.45,378.84 L448.97,378.89 L449.50,378.94 L450.03,378.99 L450.56,379.03 L451.08,379.08 L451.61,379.13 L452.14,379.18 L452.67,379.23 L453.20,379.28 L453.72,379.32 L454.25,379.37 L454.78,379.42 L455.31,379.47 L455.83,379.51 L456.36,379.56 L456.89,379.61 L457.42,379.65 L457.95,379.70 L458.47,379.74 L459.00,379.79 L459.53,379.84 L460.06,379.88 L460.59,379.93 L461.11,379.97 L461.64,380.02 L462.17,380.06 L462.70,380.10 L463.22,380.15 L463.75,380.19 L464.28,380.24 L464.81,380.28 L465.34,380.32 L465.86,380.37 L466.39,380.41 L466.92,380.45 L467.45,380.49 L467.97,380.54 L468.50,380.58 L469.03,380.62 L469.56,380.66 L470.09,380.70 L470.61,380.75 L471.14,380.79 L471.67,380.83 L472.20,380.87 L472.73,380.91 L473.25,380.95 L473.78,380.99 L474.31,381.03 L474.84,381.07 L475.36,381.11 L475.89,381.15 L476.42,381.19 L476.95,381.23 L477.48,381.27 L478.00,381.31 L478.53,381.35 L479.06,381.38 L479.59,381.42 L480.11,381.46 L480.64,381.50 L481.17,381.54 L481.70,381.58 L482.23,381.61 L482.75,381.65 L483.28,381.69 L483.81,381.73 L484.34,381.76 L484.87,381.80 L485.39,381.84 L485.92,381.87 L486.45,381.91 L486.98,381.95 L487.50,381.98 L488.03,382.02 L488.56,382.05 L489.09,382.09 L489.62,382.13 L490.14,382.16 L490.67,382.20 L491.20,382.23 L491.73,382.27 L492.25,382.30 L492.78,382.34 L493.31,382.37 L493.84,382.41 L494.37,382.44 L494.89,382.47 L495.42,382.51 L495.95,382.54 L496.48,382.58 L497.00,382.61 L497.53,382.64 L498.06,382.68 L498.59,382.71 L499.12,382.74 L499.64,382.78 L500.17,382.81 L500.70,382.84 L501.23,382.87 L501.76,382.91 L502.28,382.94 L502.81,382.97 L503.34,383.00 L503.87,383.04 L504.39,383.07 L504.92,383.10 L505.45,383.13 L505.98,383.16 L506.51,383.19 L507.03,383.23 L507.56,383.26 L508.09,383.29 L508.62,383.32 L509.14,383.35 L509.67,383.38 L510.20,383.41 L510.73,383.44 L511.26,383.47 L511.78,383.50 L512.31,383.53 L512.84,383.56 L513.37,383.59 L513.90,383.62 L514.42,383.65 L514.95,383.68 L515.48,383.71 L516.01,383.74 L516.53,383.77 L517.06,383.80 L517.59,383.83 L518.12,383.85 L518.65,383.88 L519.17,383.91 L519.70,383.94 L520.23,383.97 L520.76,384.00 L521.28,384.03 L521.81,384.05 L522.34,384.08 L522.87,384.11 L523.40,384.14 L523.92,384.16 L524.45,384.19 L524.98,384.22 L525.51,384.25 L526.04,384.27 L526.56,384.30 L527.09,384.33 L527.62,384.36 L528.15,384.38 L528.67,384.41 L529.20,384.44 L529.73,384.46 L530.26,384.49 L530.79,384.51 L531.31,384.54 L531.84,384.57 L532.37,384.59 L532.90,384.62 L533.42,384.65 L533.95,384.67 L534.48,384.70 L535.01,384.72 L535.54,384.75 L536.06,384.77 L536.59,384.80 L537.12,384.82 L537.65,384.85 L538.17,384.87 L538.70,384.90 L539.23,384.92 L539.76,384.95 L540.29,384.97 L540.81,385.00 L541.34,385.02 L541.87,385.05 L542.40,385.07 L542.93,385.10 L543.45,385.12 L543.98,385.14 L544.51,385.17 L545.04,385.19 L545.56,385.22 L546.09,385.24 L546.62,385.26 L547.15,385.29 L547.68,385.31 L548.20,385.33 L548.73,385.36 L549.26,385.38 L549.79,385.40 L550.31,385.43 L550.84,385.45 L551.37,385.47 L551.90,385.50 L552.43,385.52 L552.95,385.54 L553.48,385.56 L554.01,385.59 L554.54,385.61 L555.07,385.63 L555.59,385.65 L556.12,385.68 L556.65,385.70 L557.18,385.72 L557.70,385.74 L558.23,385.76 L558.76,385.79 L559.29,385.81 L559.82,385.83 L560.34,385.85 L560.87,385.87 L561.40,385.89 L561.93,385.92 L562.45,385.94 L562.98,385.96 L563.51,385.98 L564.04,386.00 L564.57,386.02 L565.09,386.04 L565.62,386.06 L566.15,386.08 L566.68,386.11 L567.21,386.13 L567.73,386.15 L568.26,386.17 L568.79,386.19 L569.32,386.21 L569.84,386.23 L570.37,386.25 L570.90,386.27 L571.43,386.29 L571.96,386.31 L572.48,386.33 L573.01,386.35 L573.54,386.37 L574.07,386.39 L574.59,386.41 L575.12,386.43 L575.65,386.45 L576.18,386.47 L576.71,386.49 L577.23,386.51 L577.76,386.53 L578.29,386.55 L578.82,386.57 L579.34,386.58 L579.87,386.60 L580.40,386.62 L580.93,386.64 L581.46,386.66 L581.98,386.68 L582.51,386.70 L583.04,386.72 L583.57,386.74 L584.10,386.75 L584.62,386.77 L585.15,386.79 L585.68,386.81 L586.21,386.83 L586.73,386.85 L587.26,386.87 L587.79,386.88 L588.32,386.90 L588.85,386.92 L589.37,386.94 L589.90,386.96 L590.43,386.97 L590.96,386.99 L591.48,387.01 L592.01,387.03 L592.54,387.05 L593.07,387.06 L593.60,387.08 L594.12,387.10 L594.65,387.12 L595.18,387.13 L595.71,387.15 L596.24,387.17 L596.76,387.19 L597.29,387.20 L597.82,387.22 L598.35,387.24 L598.87,387.25 L599.40,387.27 L599.93,387.29 L600.46,387.30 L600.99,387.32 L601.51,387.34 L602.04,387.36 L602.57,387.37 L603.10,387.39 L603.62,387.40 L604.15,387.42 L604.68,387.44 L605.21,387.45 L605.74,387.47 L606.26,387.49 L606.79,387.50 L607.32,387.52 L607.85,387.54 L608.38,387.55 L608.90,387.57 L609.43,387.58 L609.96,387.60 L610.49,387.62 L611.01,387.63 L611.54,387.65 L612.07,387.66 L612.60,387.68 L613.13,387.70 L613.65,387.71 L614.18,387.73 L614.71,387.74 L615.24,387.76 L615.76,387.77 L616.29,387.79 L616.82,387.80 L617.35,387.82 L617.88,387.83 L618.40,387.85 L618.93,387.87 L619.46,387.88 L619.99,387.90 L620.51,387.91 L621.04,387.93 L621.57,387.94 L622.10,387.96 L622.63,387.97 L623.15,387.99 L623.68,388.00 L624.21,388.01 L624.74,388.03 L625.27,388.04 L625.79,388.06 L626.32,388.07 L626.85,388.09 L627.38,388.10 L627.90,388.12 L628.43,388.13 L628.96,388.15 L629.49,388.16 L630.02,388.17 L630.54,388.19 L631.07,388.20 L631.60,388.22 L632.13,388.23 L632.65,388.24 L633.18,388.26 L633.71,388.27 L634.24,388.29 L634.77,388.30 L635.29,388.31 L635.82,388.33 L636.35,388.34 L636.88,388.36 L637.41,388.37 L637.93,388.38 L638.46,388.40 L638.99,388.41 L639.52,388.42 L640.04,388.44 L640.57,388.45 L641.10,388.46" stroke="#ff0000" stroke-width="3.0" stroke-dasharray="3.8 3.8"/>
<path d="M152.80,395.60 L152.80,393.69 L152.81,391.77 L152.82,389.86 L152.82,387.96 L152.83,386.05 L152.83,384.15 L152.84,382.25 L152.85,380.36 L152.85,378.46 L152.86,376.57 L152.87,374.68 L152.87,372.80 L152.88,370.91 L152.89,369.03 L152.89,367.15 L152.90,365.28 L152.91,363.40 L152.91,361.53 L152.92,359.66 L152.93,357.80 L152.93,355.93 L152.94,354.07 L152.94,352.21 L152.95,350.36 L152.96,348.50 L152.96,346.65 L152.97,344.80 L152.98,342.96 L152.98,341.11 L152.99,339.27 L153.00,337.43 L153.00,335.60 L153.01,333.76 L153.02,331.93 L153.02,330.10 L153.03,328.28 L153.04,326.46 L153.04,324.63 L153.05,322.82 L153.05,321.00 L153.06,319.18 L153.07,317.37 L153.07,315.56 L153.08,313.76 L153.09,311.95 L153.09,310.15 L153.10,308.35 L153.11,306.56 L153.11,304.76 L153.12,302.97 L153.13,301.18 L153.13,299.39 L153.14,297.61 L153.15,295.83 L153.15,294.05 L153.16,292.27 L153.16,290.49 L153.17,288.72 L153.18,286.95 L153.18,285.18 L153.19,283.42 L153.20,281.66 L153.20,279.90 L153.21,278.14 L153.22,276.38 L153.22,274.63 L153.23,272.88 L153.24,271.13 L153.24,269.38 L153.25,267.64 L153.26,265.90 L153.26,264.16 L153.27,262.42 L153.27,260.69 L153.28,258.95 L153.29,257.22 L153.29,255.50 L153.30,253.77 L153.31,252.05 L153.31,250.33 L153.32,248.61 L153.33,246.90 L153.33,245.18 L153.34,243.47 L153.35,241.76 L153.35,240.06 L153.36,238.35 L153.37,236.65 L153.37,234.95 L153.38,233.25 L153.38,231.56 L153.39,229.87 L153.40,228.18 L153.40,226.49 L153.41,224.80 L153.42,223.12 L153.42,221.44 L153.43,219.76 L153.44,218.08 L153.44,216.41 L153.45,214.74 L153.46,213.07 L153.46,211.40 L153.47,209.74 L153.48,208.07 L153.48,206.41 L153.49,204.76 L153.49,203.10 L153.50,201.45 L153.51,199.79 L153.51,198.15 L153.52,196.50 L153.53,194.85 L153.53,193.21 L153.54,191.57 L153.55,189.93 L153.55,188.30 L153.56,186.66 L153.57,185.03 L153.57,183.40 L153.58,181.78 L153.59,180.15 L153.59,178.53 L153.60,176.91 L153.60,175.29 L153.61,173.68 L153.62,172.06 L153.62,170.45 L153.63,168.84 L153.64,167.24 L153.64,165.63 L153.65,164.03 L153.66,162.43 L153.66,160.83 L153.67,159.24 L153.68,157.64 L153.68,156.05 L153.69,154.46 L153.70,152.88 L153.70,151.29 L153.71,149.71 L153.71,148.13 L153.72,146.55 L153.73,144.97 L153.73,143.40 L153.74,141.83 L153.75,140.26 L153.75,138.69 L153.76,137.13 L153.77,135.56 L153.77,134.00 L153.78,132.44 L153.79,130.89 L153.79,129.33 L153.80,127.78 L153.81,126.23 L153.81,124.68 L153.82,123.13 L153.82,121.59 L153.83,120.05 L153.84,118.51 L153.84,116.97 L153.85,115.44 L153.86,113.90 L153.86,112.37 L153.87,110.84 L153.88,109.32 L153.88,107.79 L153.89,106.27 L153.90,104.75 L153.90,103.23 L153.91,101.71 L153.92,100.20 L153.92,98.69 L153.93,97.17 L153.93,95.67 L153.94,94.16 L153.95,92.66 L153.95,91.15 L153.96,89.66 L153.97,88.16 L153.97,86.66 L153.98,85.17 L153.99,83.68 L153.99,82.19 L154.00,80.70 L154.01,79.21 L154.01,77.73 L154.02,76.25 L154.03,74.77 L154.03,73.29 L154.04,71.82 L154.04,70.35 L154.05,68.87 L154.06,67.41 L154.06,65.94 L154.07,64.47 L154.08,63.01 L154.08,61.55 M217.51,61.55 L218.12,66.09 L218.72,70.54 L219.33,74.90 L219.94,79.19 L220.54,83.39 L221.15,87.51 L221.75,91.55 L222.36,95.52 L222.97,99.42 L223.57,103.24 L224.18,106.99 L224.78,110.67 L225.39,114.28 L226.00,117.83 L226.60,121.31 L227.21,124.73 L227.81,128.09 L228.42,131.39 L229.03,134.62 L229.63,137.80 L230.24,140.93 L230.84,143.99 L231.45,147.01 L232.06,149.97 L232.66,152.88 L233.27,155.73 L233.87,158.54 L234.48,161.30 L235.09,164.01 L235.69,166.68 L236.30,169.29 L236.90,171.87 L237.51,174.40 L238.12,176.89 L238.72,179.34 L239.33,181.74 L239.93,184.11 L240.54,186.43 L241.15,188.72 L241.75,190.97 L242.36,193.19 L242.96,195.36 L243.57,197.51 L244.18,199.61 L244.78,201.69 L245.39,203.73 L245.99,205.73 L246.60,207.71 L247.21,209.66 L247.81,211.57 L248.42,213.45 L249.02,215.31 L249.63,217.14 L250.24,218.93 L250.84,220.70 L251.45,222.45 L252.05,224.16 L252.66,225.85 L253.27,227.52 L253.87,229.16 L254.48,230.77 L255.08,232.37 L255.69,233.93 L256.30,235.48 L256.90,237.00 L257.51,238.50 L258.11,239.98 L258.72,241.43 L259.33,242.87 L259.93,244.28 L260.54,245.68 L261.14,247.05 L261.75,248.41 L262.36,249.74 L262.96,251.06 L263.57,252.36 L264.17,253.64 L264.78,254.90 L265.39,256.14 L265.99,257.37 L266.60,258.58 L267.20,259.78 L267.81,260.96 L268.42,262.12 L269.02,263.27 L269.63,264.40 L270.23,265.51 L270.84,266.61 L271.45,267.70 L272.05,268.77 L272.66,269.83 L273.26,270.88 L273.87,271.91 L274.48,272.92 L275.08,273.93 L275.69,274.92 L276.29,275.90 L276.90,276.86 L277.51,277.82 L278.11,278.76 L278.72,279.69 L279.32,280.61 L279.93,281.52 L280.54,282.41 L281.14,283.30 L281.75,284.17 L282.35,285.03 L282.96,285.89 L283.57,286.73 L284.17,287.56 L284.78,288.38 L285.38,289.19 L285.99,290.00 L286.60,290.79 L287.20,291.57 L287.81,292.35 L288.41,293.11 L289.02,293.87 L289.63,294.61 L290.23,295.35 L290.84,296.08 L291.44,296.80 L292.05,297.52 L292.66,298.22 L293.26,298.92 L293.87,299.61 L294.47,300.29 L295.08,300.96 L295.69,301.63 L296.29,302.29 L296.90,302.94 L297.50,303.58 L298.11,304.22 L298.72,304.85 L299.32,305.47 L299.93,306.09 L300.53,306.70 L301.14,307.30 L301.75,307.90 L302.35,308.49 L302.96,309.07 L303.56,309.65 L304.17,310.22 L304.78,310.79 L305.38,311.34 L305.99,311.90 L306.59,312.45 L307.20,312.99 L307.81,313.52 L308.41,314.05 L309.02,314.58 L309.62,315.10 L310.23,315.61 L310.84,316.12 L311.44,316.63 L312.05,317.13 L312.65,317.62 L313.26,318.11 L313.87,318.60 L314.47,319.07 L315.08,319.55 L315.68,320.02 L316.29,320.48 L316.90,320.95 L317.50,321.40 L318.11,321.85 L318.71,322.30 L319.32,322.74 L319.93,323.18 L320.53,323.62 L321.14,324.05 L321.74,324.47 L322.35,324.90 L322.95,325.31 L323.56,325.73 L324.17,326.14 L324.77,326.55 L325.38,326.95 L325.98,327.35 L326.59,327.74 L327.20,328.14 L327.80,328.52 L328.41,328.91 L329.01,329.29 L329.62,329.67 L330.23,330.04 L330.83,330.41 L331.44,330.78 L332.04,331.14 L332.65,331.50 L333.26,331.86 L333.86,332.22 L334.47,332.57 L335.07,332.92 L335.68,333.26 L336.29,333.60 L336.89,333.94 L337.50,334.28 L338.10,334.61 L338.71,334.94 L339.32,335.27 L339.92,335.59 L340.53,335.92 L341.13,336.23 L341.74,336.55 L342.35,336.86 L342.95,337.18 L343.56,337.48 L344.16,337.79 L344.77,338.09 L345.38,338.39 L345.98,338.69 L346.59,338.99 L347.19,339.28 L347.80,339.57 L348.41,339.86 L349.01,340.15 L349.62,340.43 L350.22,340.71 L350.83,340.99 L351.44,341.27 L352.04,341.54 L352.65,341.82 L353.25,342.09 L353.86,342.35 L354.47,342.62 L355.07,342.88 L355.68,343.15 L356.28,343.41 L356.89,343.66 L357.50,343.92 L358.10,344.17 L358.71,344.42 L359.31,344.67 L359.92,344.92 L360.53,345.17 L361.13,345.41 L361.74,345.65 L362.34,345.89 L362.95,346.13 L363.56,346.37 L364.16,346.60 L364.77,346.84 L365.37,347.07 L365.98,347.30 L366.59,347.52 L367.19,347.75 L367.80,347.98 L368.40,348.20 L369.01,348.42 L369.62,348.64 L370.22,348.86 L370.83,349.07 L371.43,349.29 L372.04,349.50 L372.65,349.71 L373.25,349.92 L373.86,350.13 L374.46,350.34 L375.07,350.54 L375.68,350.75 L376.28,350.95 L376.89,351.15 L377.49,351.35 L378.10,351.55 L378.71,351.74 L379.31,351.94 L379.92,352.13 L380.52,352.33 L381.13,352.52 L381.74,352.71 L382.34,352.90 L382.95,353.08 L383.55,353.27 L384.16,353.45 L384.77,353.64 L385.37,353.82 L385.98,354.00 L386.58,354.18 L387.19,354.36 L387.80,354.54 L388.40,354.71 L389.01,354.89 L389.61,355.06 L390.22,355.23 L390.83,355.41 L391.43,355.58 L392.04,355.74 L392.64,355.91 L393.25,356.08 L393.86,356.24 L394.46,356.41 L395.07,356.57 L395.67,356.74 L396.28,356.90 L396.89,357.06 L397.49,357.22 L398.10,357.37 L398.70,357.53 L399.31,357.69 L399.92,357.84 L400.52,358.00 L401.13,358.15 L401.73,358.30 L402.34,358.45 L402.95,358.60 L403.55,358.75 L404.16,358.90 L404.76,359.05 L405.37,359.20 L405.98,359.34 L406.58,359.49 L407.19,359.63 L407.79,359.77 L408.40,359.91 L409.01,360.06 L409.61,360.20 L410.22,360.34 L410.82,360.47 L411.43,360.61 L412.04,360.75 L412.64,360.88 L413.25,361.02 L413.85,361.15 L414.46,361.29 L415.07,361.42 L415.67,361.55 L416.28,361.68 L416.88,361.81 L417.49,361.94 L418.10,362.07 L418.70,362.20 L419.31,362.33 L419.91,362.45 L420.52,362.58 L421.13,362.70 L421.73,362.83 L422.34,362.95 L422.94,363.07 L423.55,363.19 L424.16,363.32 L424.76,363.44 L425.37,363.56 L425.97,363.67 L426.58,363.79 L427.19,363.91 L427.79,364.03 L428.40,364.14 L429.00,364.26 L429.61,364.37 L430.22,364.49 L430.82,364.60 L431.43,364.72 L432.03,364.83 L432.64,364.94 L433.25,365.05 L433.85,365.16 L434.46,365.27 L435.06,365.38 L435.67,365.49 L436.28,365.60 L436.88,365.70 L437.49,365.81 L438.09,365.92 L438.70,366.02 L439.31,366.13 L439.91,366.23 L440.52,366.34 L441.12,366.44 L441.73,366.54 L442.34,366.64 L442.94,366.75 L443.55,366.85 L444.15,366.95 L444.76,367.05 L445.37,367.15 L445.97,367.25 L446.58,367.34 L447.18,367.44 L447.79,367.54 L448.40,367.64 L449.00,367.73 L449.61,367.83 L450.21,367.92 L450.82,368.02 L451.42,368.11 L452.03,368.21 L452.64,368.30 L453.24,368.39 L453.85,368.48 L454.45,368.58 L455.06,368.67 L455.67,368.76 L456.27,368.85 L456.88,368.94 L457.48,369.03 L458.09,369.12 L458.70,369.20 L459.30,369.29 L459.91,369.38 L460.51,369.47 L461.12,369.55 L461.73,369.64 L462.33,369.72 L462.94,369.81 L463.54,369.89 L464.15,369.98 L464.76,370.06 L465.36,370.15 L465.97,370.23 L466.57,370.31 L467.18,370.39 L467.79,370.48 L468.39,370.56 L469.00,370.64 L469.60,370.72 L470.21,370.80 L470.82,370.88 L471.42,370.96 L472.03,371.04 L472.63,371.12 L473.24,371.19 L473.85,371.27 L474.45,371.35 L475.06,371.43 L475.66,371.50 L476.27,371.58 L476.88,371.66 L477.48,371.73 L478.09,371.81 L478.69,371.88 L479.30,371.96 L479.91,372.03 L480.51,372.10 L481.12,372.18 L481.72,372.25 L482.33,372.32 L482.94,372.39 L483.54,372.47 L484.15,372.54 L484.75,372.61 L485.36,372.68 L485.97,372.75 L486.57,372.82 L487.18,372.89 L487.78,372.96 L488.39,373.03 L489.00,373.10 L489.60,373.17 L490.21,373.24 L490.81,373.30 L491.42,373.37 L492.03,373.44 L492.63,373.51 L493.24,373.57 L493.84,373.64 L494.45,373.70 L495.06,373.77 L495.66,373.84 L496.27,373.90 L496.87,373.97 L497.48,374.03 L498.09,374.09 L498.69,374.16 L499.30,374.22 L499.90,374.29 L500.51,374.35 L501.12,374.41 L501.72,374.47 L502.33,374.54 L502.93,374.60 L503.54,374.66 L504.15,374.72 L504.75,374.78 L505.36,374.84 L505.96,374.90 L506.57,374.96 L507.18,375.02 L507.78,375.08 L508.39,375.14 L508.99,375.20 L509.60,375.26 L510.21,375.32 L510.81,375.38 L511.42,375.44 L512.02,375.49 L512.63,375.55 L513.24,375.61 L513.84,375.67 L514.45,375.72 L515.05,375.78 L515.66,375.84 L516.27,375.89 L516.87,375.95 L517.48,376.00 L518.08,376.06 L518.69,376.11 L519.30,376.17 L519.90,376.22 L520.51,376.28 L521.11,376.33 L521.72,376.39 L522.33,376.44 L522.93,376.49 L523.54,376.55 L524.14,376.60 L524.75,376.65 L525.36,376.71 L525.96,376.76 L526.57,376.81 L527.17,376.86 L527.78,376.91 L528.39,376.96 L528.99,377.02 L529.60,377.07 L530.20,377.12 L530.81,377.17 L531.42,377.22 L532.02,377.27 L532.63,377.32 L533.23,377.37 L533.84,377.42 L534.45,377.47 L535.05,377.52 L535.66,377.57 L536.26,377.61 L536.87,377.66 L537.48,377.71 L538.08,377.76 L538.69,377.81 L539.29,377.86 L539.90,377.90 L540.51,377.95 L541.11,378.00 L541.72,378.04 L542.32,378.09 L542.93,378.14 L543.54,378.18 L544.14,378.23 L544.75,378.28 L545.35,378.32 L545.96,378.37 L546.57,378.41 L547.17,378.46 L547.78,378.50 L548.38,378.55 L548.99,378.59 L549.60,378.64 L550.20,378.68 L550.81,378.73 L551.41,378.77 L552.02,378.81 L552.63,378.86 L553.23,378.90 L553.84,378.94 L554.44,378.99 L555.05,379.03 L555.66,379.07 L556.26,379.12 L556.87,379.16 L557.47,379.20 L558.08,379.24 L558.69,379.28 L559.29,379.33 L559.90,379.37 L560.50,379.41 L561.11,379.45 L561.72,379.49 L562.32,379.53 L562.93,379.57 L563.53,379.61 L564.14,379.65 L564.75,379.69 L565.35,379.73 L565.96,379.77 L566.56,379.81 L567.17,379.85 L567.78,379.89 L568.38,379.93 L568.99,379.97 L569.59,380.01 L570.20,380.05 L570.81,380.09 L571.41,380.13 L572.02,380.17 L572.62,380.20 L573.23,380.24 L573.84,380.28 L574.44,380.32 L575.05,380.36 L575.65,380.39 L576.26,380.43 L576.87,380.47 L577.47,380.51 L578.08,380.54 L578.68,380.58 L579.29,380.62 L579.89,380.65 L580.50,380.69 L581.11,380.73 L581.71,380.76 L582.32,380.80 L582.92,380.83 L583.53,380.87 L584.14,380.91 L584.74,380.94 L585.35,380.98 L585.95,381.01 L586.56,381.05 L587.17,381.08 L587.77,381.12 L588.38,381.15 L588.98,381.19 L589.59,381.22 L590.20,381.26 L590.80,381.29 L591.41,381.32 L592.01,381.36 L592.62,381.39 L593.23,381.43 L593.83,381.46 L594.44,381.49 L595.04,381.53 L595.65,381.56 L596.26,381.59 L596.86,381.63 L597.47,381.66 L598.07,381.69 L598.68,381.73 L599.29,381.76 L599.89,381.79 L600.50,381.82 L601.10,381.85 L601.71,381.89 L602.32,381.92 L602.92,381.95 L603.53,381.98 L604.13,382.01 L604.74,382.05 L605.35,382.08 L605.95,382.11 L606.56,382.14 L607.16,382.17 L607.77,382.20 L608.38,382.23 L608.98,382.26 L609.59,382.29 L610.19,382.32 L610.80,382.36 L611.41,382.39 L612.01,382.42 L612.62,382.45 L613.22,382.48 L613.83,382.51 L614.44,382.54 L615.04,382.57 L615.65,382.59 L616.25,382.62 L616.86,382.65 L617.47,382.68 L618.07,382.71 L618.68,382.74 L619.28,382.77 L619.89,382.80 L620.50,382.83 L621.10,382.86 L621.71,382.89 L622.31,382.91 L622.92,382.94 L623.53,382.97 L624.13,383.00 L624.74,383.03 L625.34,383.06 L625.95,383.08 L626.56,383.11 L627.16,383.14 L627.77,383.17 L628.37,383.19 L628.98,383.22 L629.59,383.25 L630.19,383.28 L630.80,383.30 L631.40,383.33 L632.01,383.36 L632.62,383.38 L633.22,383.41 L633.83,383.44 L634.43,383.46 L635.04,383.49 L635.65,383.52 L636.25,383.54 L636.86,383.57 L637.46,383.60 L638.07,383.62 L638.68,383.65 L639.28,383.67 L639.89,383.70 L640.49,383.73 L641.10,383.75" stroke="#00ff00" stroke-width="3.0" stroke-dasharray="11.5 3.75 3.8 3.75"/>
</g>
<path d="M100.1,61.55 H641.1 V395.6 H100.1 Z M118.13,395.6 v-3.8 M118.13,61.55 v3.8 M136.17,395.6 v-3.8 M136.17,61.55 v3.8 M154.20,395.6 v-3.8 M154.20,61.55 v3.8 M172.23,395.6 v-3.8 M172.23,61.55 v3.8 M190.27,395.6 v-6.5 M190.27,61.55 v6.5 M208.30,395.6 v-3.8 M208.30,61.55 v3.8 M226.33,395.6 v-3.8 M226.33,61.55 v3.8 M244.37,395.6 v-3.8 M244.37,61.55 v3.8 M262.40,395.6 v-3.8 M262.40,61.55 v3.8 M280.43,395.6 v-6.5 M280.43,61.55 v6.5 M298.47,395.6 v-3.8 M298.47,61.55 v3.8 M316.50,395.6 v-3.8 M316.50,61.55 v3.8 M334.53,395.6 v-3.8 M334.53,61.55 v3.8 M352.57,395.6 v-3.8 M352.57,61.55 v3.8 M370.60,395.6 v-6.5 M370.60,61.55 v6.5 M388.63,395.6 v-3.8 M388.63,61.55 v3.8 M406.67,395.6 v-3.8 M406.67,61.55 v3.8 M424.70,395.6 v-3.8 M424.70,61.55 v3.8 M442.73,395.6 v-3.8 M442.73,61.55 v3.8 M460.77,395.6 v-6.5 M460.77,61.55 v6.5 M478.80,395.6 v-3.8 M478.80,61.55 v3.8 M496.83,395.6 v-3.8 M496.83,61.55 v3.8 M514.87,395.6 v-3.8 M514.87,61.55 v3.8 M532.90,395.6 v-3.8 M532.90,61.55 v3.8 M550.93,395.6 v-6.5 M550.93,61.55 v6.5 M568.97,395.6 v-3.8 M568.97,61.55 v3.8 M587.00,395.6 v-3.8 M587.00,61.55 v3.8 M605.03,395.6 v-3.8 M605.03,61.55 v3.8 M623.07,395.6 v-3.8 M623.07,61.55 v3.8 M100.1,383.67 h3.8 M641.1,383.67 h-3.8 M100.1,371.74 h3.8 M641.1,371.74 h-3.8 M100.1,359.81 h3.8 M641.1,359.81 h-3.8 M100.1,347.88 h3.8 M641.1,347.88 h-3.8 M100.1,335.95 h6.5 M641.1,335.95 h-6.5 M100.1,324.02 h3.8 M641.1,324.02 h-3.8 M100.1,312.09 h3.8 M641.1,312.09 h-3.8 M100.1,300.16 h3.8 M641.1,300.16 h-3.8 M100.1,288.23 h3.8 M641.1,288.23 h-3.8 M100.1,276.30 h6.5 M641.1,276.30 h-6.5 M100.1,264.37 h3.8 M641.1,264.37 h-3.8 M100.1,252.44 h3.8 M641.1,252.44 h-3.8 M100.1,240.51 h3.8 M641.1,240.51 h-3.8 M100.1,228.58 h3.8 M641.1,228.58 h-3.8 M100.1,216.64 h6.5 M641.1,216.64 h-6.5 M100.1,204.71 h3.8 M641.1,204.71 h-3.8 M100.1,192.78 h3.8 M641.1,192.78 h-3.8 M100.1,180.85 h3.8 M641.1,180.85 h-3.8 M100.1,168.92 h3.8 M641.1,168.92 h-3.8 M100.1,156.99 h6.5 M641.1,156.99 h-6.5 M100.1,145.06 h3.8 M641.1,145.06 h-3.8 M100.1,133.13 h3.8 M641.1,133.13 h-3.8 M100.1,121.20 h3.8 M641.1,121.20 h-3.8 M100.1,109.27 h3.8 M641.1,109.27 h-3.8 M100.1,97.34 h6.5 M641.1,97.34 h-6.5 M100.1,85.41 h3.8 M641.1,85.41 h-3.8 M100.1,73.48 h3.8 M641.1,73.48 h-3.8" fill="none" stroke="#000" stroke-width="1"/>
<path d="M448.5,114.0 H521.5" stroke="#000000" stroke-width="3.4" fill="none"/>
<path d="M448.5,151.3 H521.5" stroke="#0000ff" stroke-width="3.0" stroke-dasharray="11.5 3.7" fill="none"/>
<path d="M448.5,188.6 H521.5" stroke="#ff0000" stroke-width="3.0" stroke-dasharray="3.8 3.8" fill="none"/>
<path d="M448.5,226.0 H521.5" stroke="#00ff00" stroke-width="3.0" stroke-dasharray="11.5 3.75 3.8 3.75" fill="none"/>
<g style="filter:grayscale(1)" transform="rotate(0.04 343 252)">
<clipPath id="c1m"><rect x="-60" y="-40" width="120" height="37.00"/><rect x="-0.91" y="-3.10" width="2.62" height="6.00"/></clipPath>
<clipPath id="c1e"><rect x="-60" y="-40" width="120" height="37.00"/><rect x="-19.33" y="-3.10" width="2.62" height="6.00"/><rect x="-11.78" y="-3.10" width="40" height="6.00"/></clipPath>
<text font-family="Liberation Sans" font-size="22.8" transform="translate(100.30,425.3) scale(1,1.025)" text-anchor="middle">0</text>
<text font-family="Liberation Sans" font-size="22.8" transform="translate(191.07,425.3) scale(1,1.025)" text-anchor="middle" clip-path="url(#c1m)">1</text>
<text font-family="Liberation Sans" font-size="22.8" transform="translate(280.63,425.3) scale(1,1.025)" text-anchor="middle">2</text>
<text font-family="Liberation Sans" font-size="22.8" transform="translate(370.80,425.3) scale(1,1.025)" text-anchor="middle">3</text>
<text font-family="Liberation Sans" font-size="22.8" transform="translate(460.97,425.3) scale(1,1.025)" text-anchor="middle">4</text>
<text font-family="Liberation Sans" font-size="22.8" transform="translate(551.13,425.3) scale(1,1.025)" text-anchor="middle">5</text>
<text font-family="Liberation Sans" font-size="22.8" transform="translate(641.30,425.3) scale(1,1.025)" text-anchor="middle">6</text>
<text font-family="Liberation Sans" font-size="22.8" transform="translate(94.2,403.55) scale(1,1.025)" text-anchor="end">0</text>
<text font-family="Liberation Sans" font-size="22.8" transform="translate(94.2,343.90) scale(1,1.025)" text-anchor="end">5</text>
<text font-family="Liberation Sans" font-size="22.8" transform="translate(94.2,284.25) scale(1,1.025)" text-anchor="end" clip-path="url(#c1e)"><tspan dx="0.6">1</tspan><tspan dx="-0.6">0</tspan></text>
<text font-family="Liberation Sans" font-size="22.8" transform="translate(94.2,224.59) scale(1,1.025)" text-anchor="end" clip-path="url(#c1e)"><tspan dx="0.6">1</tspan><tspan dx="-0.6">5</tspan></text>
<text font-family="Liberation Sans" font-size="22.8" transform="translate(94.2,164.94) scale(1,1.025)" text-anchor="end">20</text>
<text font-family="Liberation Sans" font-size="22.8" transform="translate(94.2,105.29) scale(1,1.025)" text-anchor="end">25</text>
</g>
<g style="filter:grayscale(1)" transform="rotate(0.04 343 252)">
<text font-family="Liberation Serif" font-style="italic" font-size="25.80" transform="translate(530.73,121.30) scale(1.0712,1)" stroke="#fff" stroke-width="0.1">l</text>
<text font-family="Liberation Serif" font-style="italic" font-size="19.17" transform="translate(537.65,125.10) scale(0.9165,1)">b</text>
<text font-family="Liberation Serif" font-style="italic" font-size="23.70" transform="translate(551.55,122.40) skewX(-12) scale(1.2150,1)" stroke="#000" stroke-width="0.25">=</text>
<text font-family="Liberation Serif" font-style="italic" font-size="25.45" transform="translate(576.24,121.10) scale(0.9468,1)" stroke="#fff" stroke-width="0.1">1</text>
<text font-family="Liberation Serif" font-style="italic" font-size="25.80" transform="translate(530.73,158.60) scale(1.0712,1)" stroke="#fff" stroke-width="0.1">l</text>
<text font-family="Liberation Serif" font-style="italic" font-size="19.17" transform="translate(537.65,162.40) scale(0.9165,1)">b</text>
<text font-family="Liberation Serif" font-style="italic" font-size="23.70" transform="translate(551.55,159.70) skewX(-12) scale(1.2150,1)" stroke="#000" stroke-width="0.25">=</text>
<text font-family="Liberation Serif" font-style="italic" font-size="25.37" transform="translate(575.99,158.40) scale(0.8418,1)" stroke="#fff" stroke-width="0.1">2</text>
<text font-family="Liberation Serif" font-style="italic" font-size="25.80" transform="translate(530.73,195.90) scale(1.0712,1)" stroke="#fff" stroke-width="0.1">l</text>
<text font-family="Liberation Serif" font-style="italic" font-size="19.17" transform="translate(537.65,199.70) scale(0.9165,1)">b</text>
<text font-family="Liberation Serif" font-style="italic" font-size="23.70" transform="translate(551.55,197.00) skewX(-12) scale(1.2150,1)" stroke="#000" stroke-width="0.25">=</text>
<text font-family="Liberation Serif" font-style="italic" font-size="25.37" transform="translate(575.53,195.70) scale(0.9203,1)" stroke="#fff" stroke-width="0.1">3</text>
<text font-family="Liberation Serif" font-style="italic" font-size="25.80" transform="translate(530.73,233.30) scale(1.0712,1)" stroke="#fff" stroke-width="0.1">l</text>
<text font-family="Liberation Serif" font-style="italic" font-size="19.17" transform="translate(537.65,237.10) scale(0.9165,1)">b</text>
<text font-family="Liberation Serif" font-style="italic" font-size="23.70" transform="translate(551.55,234.40) skewX(-12) scale(1.2150,1)" stroke="#000" stroke-width="0.25">=</text>
<text font-family="Liberation Serif" font-style="italic" font-size="25.52" transform="translate(575.75,233.10) scale(0.8741,1)" stroke="#fff" stroke-width="0.1">4</text>
<text font-family="Liberation Serif" font-size="31.29" transform="translate(210.91,37.61) scale(0.6641,1)" stroke="#000" stroke-width="0.25">{</text>
<text font-family="Liberation Serif" font-style="italic" font-size="32.07" transform="translate(228.29,37.10) scale(1.0398,1)" stroke="#fff" stroke-width="0.2">M</text>
<text font-family="Liberation Serif" font-style="italic" font-size="32.00" transform="translate(262.31,39.40) skewX(-12) scale(1.1618,1)" stroke="#000" stroke-width="0.2">=</text>
<text font-family="Liberation Serif" font-style="italic" font-size="31.81" transform="translate(294.52,37.10) scale(0.9512,1)" stroke="#fff" stroke-width="0.2">1</text>
<text font-family="Liberation Serif" font-style="italic" font-size="32.00" transform="translate(314.68,37.10) scale(1.0217,1)" stroke="#000" stroke-width="0.15">;</text>
<text font-family="Liberation Serif" font-style="italic" font-size="31.72" transform="translate(331.46,37.10) scale(1.0503,1)" stroke="#fff" stroke-width="0.2">Q</text>
<text font-family="Liberation Serif" font-style="italic" font-size="32.00" transform="translate(360.28,39.40) skewX(-12) scale(1.1148,1)" stroke="#000" stroke-width="0.2">=</text>
<text font-family="Liberation Serif" font-style="italic" font-size="31.81" transform="translate(391.68,37.10) scale(0.9864,1)" stroke="#fff" stroke-width="0.2">1</text>
<text font-family="Liberation Serif" font-style="italic" font-size="32.00" transform="translate(412.37,37.10) scale(0.9650,1)" stroke="#000" stroke-width="0.15">;</text>
<text font-family="Liberation Serif" font-style="italic" font-size="31.56" transform="translate(429.09,37.10) scale(1.0788,1)" stroke="#fff" stroke-width="0.2">l</text>
<text font-family="Liberation Serif" font-style="italic" font-size="32.00" transform="translate(443.03,39.40) skewX(-12) scale(1.1282,1)" stroke="#000" stroke-width="0.2">=</text>
<text font-family="Liberation Serif" font-style="italic" font-size="31.58" transform="translate(474.03,37.10) scale(0.9568,1)" stroke="#fff" stroke-width="0.2">0.5</text>
<text font-family="Liberation Serif" font-size="31.29" transform="translate(520.10,37.61) scale(0.6319,1)" stroke="#000" stroke-width="0.25">}</text>
<g role="img" aria-label="r" transform="translate(364.1,489.2)"><title>r</title><path d="M0.1,-13.9 Q2.5,-16.3 5.2,-17.6 L7.6,-18.0 L6.5,-12.2 Q8.9,-16.1 12.1,-17.6 L13.9,-18.2 L13.6,-14.1 Q11.7,-15.5 10.1,-14.5 Q7.9,-13.0 6.6,-10.0 L4.3,-0.3 L1.1,0.0 L4.1,-13.2 Q4.5,-15.2 3.4,-15.4 Q2.1,-15.3 0.6,-13.5 Z"/></g>
<g transform="translate(42.2,258.1) rotate(-90)">
<text font-family="Liberation Serif" font-style="italic" font-size="40.32" transform="translate(-1.99,0.00) scale(0.9432,1)">V</text>
<text font-family="Liberation Serif" font-size="34.96" transform="translate(24.69,-1.44) scale(0.9801,1)" stroke="#fff" stroke-width="0.5">(</text>
<g role="img" aria-label="r" transform="translate(37.3,0) scale(0.978)"><title>r</title><path d="M0.1,-13.9 Q2.5,-16.3 5.2,-17.6 L7.6,-18.0 L6.5,-12.2 Q8.9,-16.1 12.1,-17.6 L13.9,-18.2 L13.6,-14.1 Q11.7,-15.5 10.1,-14.5 Q7.9,-13.0 6.6,-10.0 L4.3,-0.3 L1.1,0.0 L4.1,-13.2 Q4.5,-15.2 3.4,-15.4 Q2.1,-15.3 0.6,-13.5 Z"/></g>
<text font-family="Liberation Serif" font-size="34.96" transform="translate(51.20,-1.44) scale(0.9801,1)" stroke="#fff" stroke-width="0.5">)</text>
</g>
</g>
</svg></body></html>
